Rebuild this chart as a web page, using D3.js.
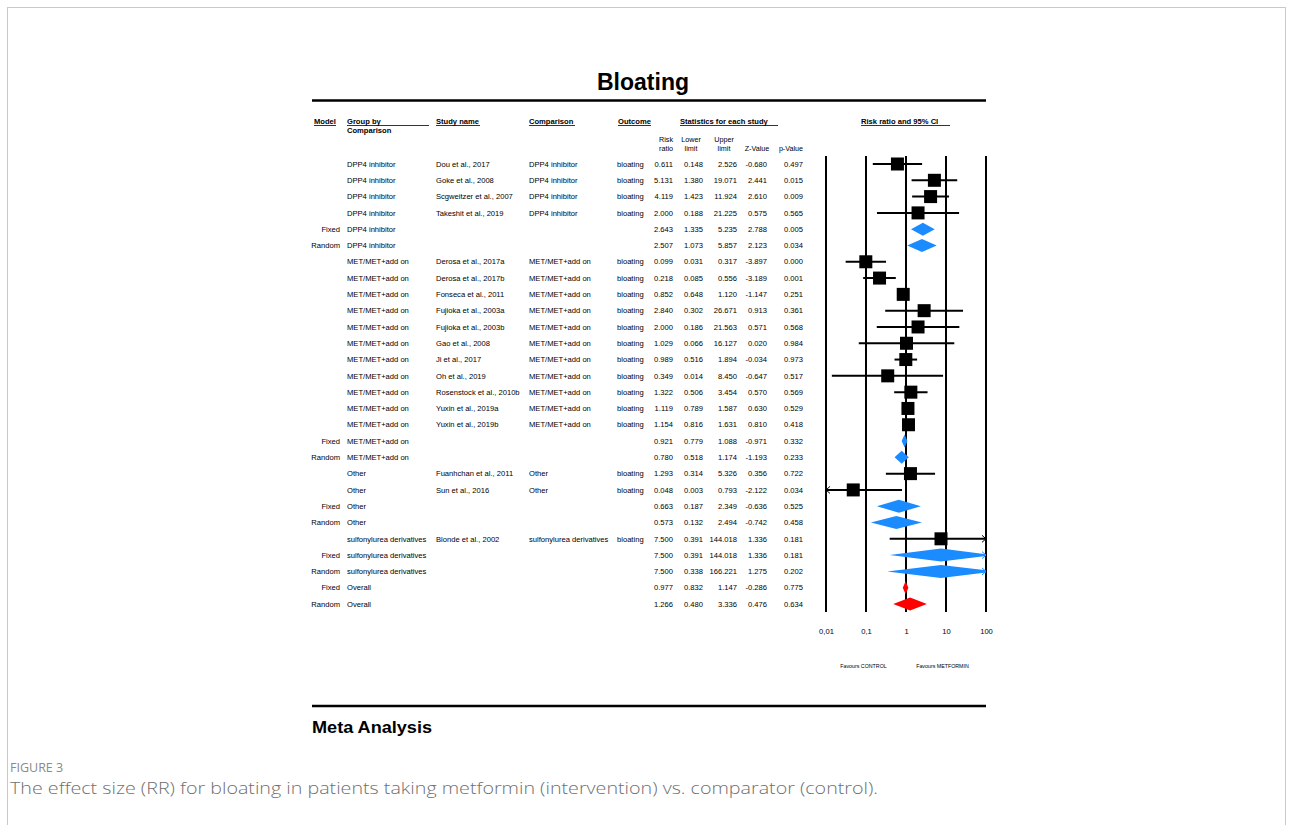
<!DOCTYPE html>
<html><head><meta charset="utf-8">
<script src="https://cdn.jsdelivr.net/npm/d3@7"></script>
<style>
html,body{margin:0;padding:0;background:#fff;}
svg{display:block;}
</style></head>
<body>
<svg id="chart" width="1293" height="825"></svg>
<script>
const models = ["","","","","Fixed","Random","","","","","","","","","","","","Fixed","Random","","","Fixed","Random","","Fixed","Random","Fixed","Random"];
const groups = ["DPP4 inhibitor","DPP4 inhibitor","DPP4 inhibitor","DPP4 inhibitor","DPP4 inhibitor","DPP4 inhibitor",
"MET/MET+add on","MET/MET+add on","MET/MET+add on","MET/MET+add on","MET/MET+add on","MET/MET+add on","MET/MET+add on","MET/MET+add on","MET/MET+add on","MET/MET+add on","MET/MET+add on","MET/MET+add on","MET/MET+add on",
"Other","Other","Other","Other","sulfonylurea derivatives","sulfonylurea derivatives","sulfonylurea derivatives","Overall","Overall"];
const studies = ["Dou et al., 2017","Goke et al., 2008","Scgweitzer et al., 2007","Takeshit et al., 2019","","",
"Derosa et al., 2017a","Derosa et al., 2017b","Fonseca et al., 2011","Fujioka et al., 2003a","Fujioka et al., 2003b","Gao et al., 2008","Ji et al., 2017","Oh et al., 2019","Rosenstock et al., 2010b","Yuxin et al., 2019a","Yuxin et al., 2019b","","",
"Fuanhchan et al., 2011","Sun et al., 2016","","","Blonde et al., 2002","","","",""];
const comparisons = ["DPP4 inhibitor","DPP4 inhibitor","DPP4 inhibitor","DPP4 inhibitor","","",
"MET/MET+add on","MET/MET+add on","MET/MET+add on","MET/MET+add on","MET/MET+add on","MET/MET+add on","MET/MET+add on","MET/MET+add on","MET/MET+add on","MET/MET+add on","MET/MET+add on","","",
"Other","Other","","","sulfonylurea derivatives","","","",""];
const outcomes = ["bloating","bloating","bloating","bloating","","",
"bloating","bloating","bloating","bloating","bloating","bloating","bloating","bloating","bloating","bloating","bloating","","",
"bloating","bloating","","","bloating","","","",""];
const riskRatio = [0.611,5.131,4.119,2.000,2.643,2.507,0.099,0.218,0.852,2.840,2.000,1.029,0.989,0.349,1.322,1.119,1.154,0.921,0.780,1.293,0.048,0.663,0.573,7.500,7.500,7.500,0.977,1.266];
const lowerLimit = [0.148,1.380,1.423,0.188,1.335,1.073,0.031,0.085,0.648,0.302,0.186,0.066,0.516,0.014,0.506,0.789,0.816,0.779,0.518,0.314,0.003,0.187,0.132,0.391,0.391,0.338,0.832,0.480];
const upperLimit = [2.526,19.071,11.924,21.225,5.235,5.857,0.317,0.556,1.120,26.671,21.563,16.127,1.894,8.450,3.454,1.587,1.631,1.088,1.174,5.326,0.793,2.349,2.494,144.018,144.018,166.221,1.147,3.336];
const zValue = [-0.680,2.441,2.610,0.575,2.788,2.123,-3.897,-3.189,-1.147,0.913,0.571,0.020,-0.034,-0.647,0.570,0.630,0.810,-0.971,-1.193,0.356,-2.122,-0.636,-0.742,1.336,1.336,1.275,-0.286,0.476];
const pValue = [0.497,0.015,0.009,0.565,0.005,0.034,0.000,0.001,0.251,0.361,0.568,0.984,0.973,0.517,0.569,0.529,0.418,0.332,0.233,0.722,0.034,0.525,0.458,0.181,0.181,0.202,0.775,0.634];
const rowKind = ["study","study","study","study","sub","sub","study","study","study","study","study","study","study","study","study","study","study","sub","sub","study","study","sub","sub","study","sub","sub","overall","overall"];
const axisTicks = [0.01,0.1,1,10,100];
const axisTickLabels = ["0,01","0,1","1","10","100"];

const svg = d3.select("#chart");
const F = "'Liberation Sans', Arial, Helvetica, sans-serif";

// page frame
svg.append("rect").attr("x",7.5).attr("y",7.5).attr("width",1278).attr("height",830)
  .attr("fill","none").attr("stroke","#c9c9c9").attr("stroke-width",1);

// title
svg.append("text").attr("x",643).attr("y",90).attr("text-anchor","middle")
  .attr("font-family",F).attr("font-weight","bold").attr("font-size",23).text("Bloating");
svg.append("line").attr("x1",312).attr("x2",986).attr("y1",100.5).attr("y2",100.5).attr("stroke","#000").attr("stroke-width",2.5);

// headers
const hdr = svg.append("g").attr("font-family",F).attr("font-size",7.6).attr("font-weight","bold");
function hText(x,y,t,anchor){
  return hdr.append("text").attr("x",x).attr("y",y).attr("text-anchor",anchor||"start").text(t);
}
const headerDefs = [
  {x:314,t:"Model",ul:336},
  {x:347,t:"Group by",ul:429},
  {x:436,t:"Study name",ul:480},
  {x:529,t:"Comparison",ul:575},
  {x:618,t:"Outcome",ul:651},
  {x:680,t:"Statistics for each study",ul:778},
  {x:861,t:"Risk ratio and 95% CI",ul:950}
];
headerDefs.forEach(h=>{
  hText(h.x,123.5,h.t);
  svg.append("line").attr("x1",h.x).attr("x2",h.ul).attr("y1",125.5).attr("y2",125.5).attr("stroke","#000").attr("stroke-width",0.8);
});
hText(347,132.5,"Comparison");

const sub = svg.append("g").attr("font-family",F).attr("font-size",7.2).attr("fill","#000");
[["Risk","ratio",673,"end"],["Lower","limit",691,"middle"],["Upper","limit",724,"middle"],["","Z-Value",757,"middle"],["","p-Value",791,"middle"]].forEach(d=>{
  if(d[0]) sub.append("text").attr("x",d[2]).attr("y",141.5).attr("text-anchor",d[3]).text(d[0]);
  sub.append("text").attr("x",d[2]).attr("y",150.5).attr("text-anchor",d[3]).text(d[1]);
});

// rows
const idx = d3.range(riskRatio.length);
const y = d3.scalePoint().domain(idx).range([164,604]);
const body = svg.append("g").attr("font-family",F).attr("font-size",7.6).attr("fill","#000");
const fmt = d3.formatLocale({decimal:".",thousands:",",grouping:[3],currency:["",""],minus:"-"}).format(".3f");
idx.forEach(i=>{
  const yy = y(i)+2.7;
  if(models[i]) body.append("text").attr("x",340).attr("y",yy).attr("text-anchor","end").text(models[i]);
  body.append("text").attr("x",347).attr("y",yy).text(groups[i]);
  if(studies[i]) body.append("text").attr("x",436).attr("y",yy).text(studies[i]);
  if(comparisons[i]) body.append("text").attr("x",529).attr("y",yy).text(comparisons[i]);
  if(outcomes[i]) body.append("text").attr("x",617).attr("y",yy).text(outcomes[i]);
  [[riskRatio,673],[lowerLimit,703],[upperLimit,737],[zValue,767],[pValue,803]].forEach(c=>{
    body.append("text").attr("x",c[1]).attr("y",yy).attr("text-anchor","end").text(fmt(c[0][i]));
  });
});

// forest plot
const x = d3.scaleLog().domain([0.01,100]).range([826,986]);
const plot = svg.append("g");
axisTicks.forEach(t=>{
  plot.append("line").attr("x1",x(t)).attr("x2",x(t)).attr("y1",156).attr("y2",612)
    .attr("stroke","#000").attr("stroke-width",2);
});
const clamp = v => Math.max(0.01, Math.min(100, v));
const blue = "#1a8cff", red = "#ff0000";
const box = 13, dh = 6.5;
idx.forEach(i=>{
  const cy = y(i);
  const lo = x(clamp(lowerLimit[i])), hi = x(clamp(upperLimit[i])), c = x(clamp(riskRatio[i]));
  if(rowKind[i]==="study"){
    plot.append("line").attr("x1",lo).attr("x2",hi).attr("y1",cy).attr("y2",cy).attr("stroke","#000").attr("stroke-width",2);
    plot.append("rect").attr("x",c-box/2).attr("y",cy-box/2).attr("width",box).attr("height",box).attr("fill","#000");
    if(lowerLimit[i]<0.01){
      plot.append("path").attr("d",`M${lo+4},${cy-3.5}L${lo},${cy}L${lo+4},${cy+3.5}`).attr("fill","none").attr("stroke","#000").attr("stroke-width",1);
    }
    if(upperLimit[i]>100){
      plot.append("path").attr("d",`M${hi-4},${cy-3.5}L${hi},${cy}L${hi-4},${cy+3.5}`).attr("fill","none").attr("stroke","#000").attr("stroke-width",1);
    }
  } else {
    const col = rowKind[i]==="overall" ? red : blue;
    const rawHi = x(upperLimit[i]), rawLo = x(lowerLimit[i]);
    let pts;
    if(upperLimit[i]>100){
      const frac = (hi - c)/(rawHi - c);
      const hh = dh*(1-frac);
      pts = [[rawLo,cy],[c,cy-dh],[hi,cy-hh],[hi,cy+hh],[c,cy+dh]];
    } else {
      pts = [[rawLo,cy],[c,cy-dh],[rawHi,cy],[c,cy+dh]];
    }
    plot.append("polygon").attr("points",pts.map(p=>p.join(",")).join(" ")).attr("fill",col);
    if(upperLimit[i]>100){
      plot.append("path").attr("d",`M${hi-4},${cy-3.5}L${hi},${cy}L${hi-4},${cy+3.5}`).attr("fill","none").attr("stroke",col).attr("stroke-width",1);
    }
  }
});

// axis
const axis = d3.axisBottom(x).tickValues(axisTicks).tickSize(0).tickPadding(0)
  .tickFormat((d,k)=>axisTickLabels[k]);
const ag = svg.append("g").attr("transform","translate(0,629)").call(axis);
ag.select(".domain").remove();
ag.selectAll("text").attr("font-family",F).attr("font-size",7.6).attr("fill","#000");

svg.append("text").attr("x",863.5).attr("y",667.5).attr("text-anchor","middle").attr("font-family",F).attr("font-size",5.3).text("Favours CONTROL");
svg.append("text").attr("x",942.5).attr("y",667.5).attr("text-anchor","middle").attr("font-family",F).attr("font-size",5.3).text("Favours METFORMIN");

// footer
svg.append("line").attr("x1",312).attr("x2",986).attr("y1",706).attr("y2",706).attr("stroke","#000").attr("stroke-width",2.5);
svg.append("text").attr("x",312).attr("y",733).attr("font-family","'Liberation Sans Narrow','Arial Narrow','Liberation Sans',sans-serif")
  .attr("font-weight","bold").attr("font-size",17).attr("textLength",120).attr("lengthAdjust","spacingAndGlyphs").text("Meta Analysis");

svg.append("text").attr("x",10).attr("y",772).attr("font-family","'Open Sans', sans-serif").attr("font-size",12.5)
  .attr("fill","#8a8a8a").text("FIGURE 3");
svg.append("text").attr("x",10).attr("y",794).attr("font-family","'Open Sans', sans-serif").attr("font-size",17).attr("font-weight",300)
  .attr("fill","#6f6f6f").attr("textLength",868).attr("lengthAdjust","spacingAndGlyphs")
  .text("The effect size (RR) for bloating in patients taking metformin (intervention) vs. comparator (control).");
</script>
</body></html>
